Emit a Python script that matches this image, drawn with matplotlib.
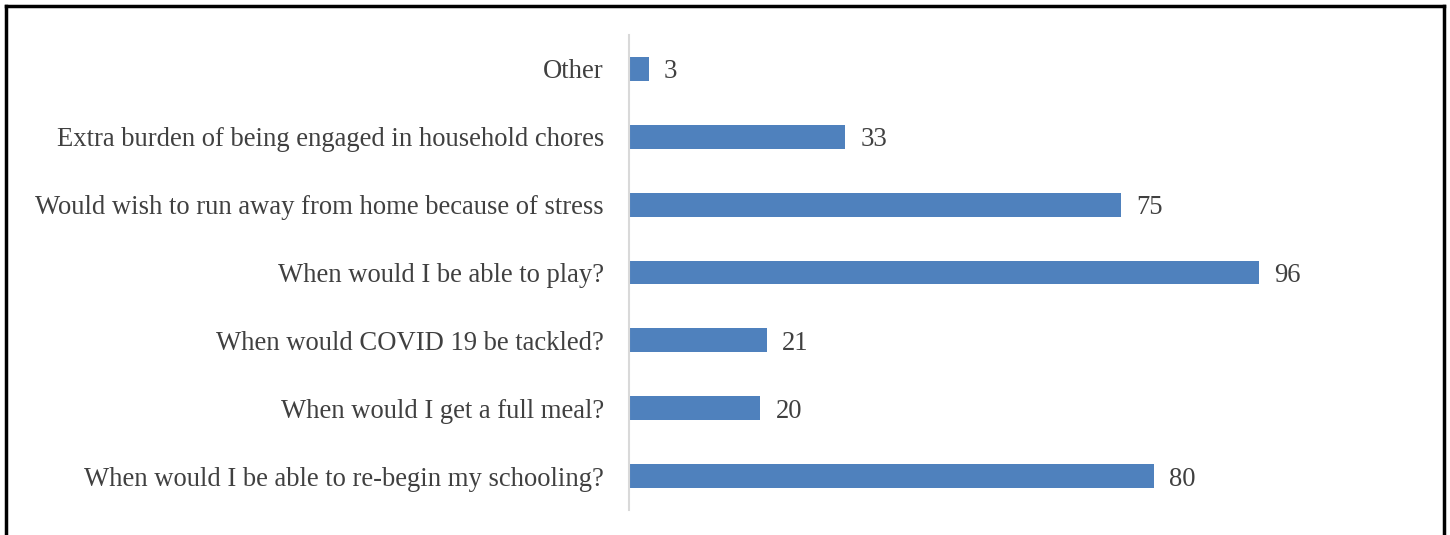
import matplotlib
matplotlib.use("Agg")
import matplotlib.pyplot as plt
from matplotlib.lines import Line2D

categories = [
    "When would I be able to re-begin my schooling?",
    "When would I get a full meal?",
    "When would COVID 19 be tackled?",
    "When would I be able to play?",
    "Would wish to run away from home because of stress",
    "Extra burden of being engaged in household chores",
    "Other",
]
values = [80, 20, 21, 96, 75, 33, 3]

W, H = 1450, 535
fig = plt.figure(figsize=(W / 100, H / 100), dpi=100)
ax = fig.add_axes([629 / W, 1 - 510 / H, (1416 - 629) / W, (510 - 35) / H])

font = ["Liberation Serif", "DejaVu Serif"]
text_color = "#404040"

y = list(range(len(categories)))
ax.barh(y, values, height=0.35, color="#4F81BD")
ax.set_ylim(-0.5, len(categories) - 0.5)
ax.set_xlim(0, 120)
ax.set_yticks(y)
ax.set_yticklabels(categories, family=font, fontsize=19.2, color=text_color,
                   va="center_baseline")
ax.tick_params(axis="y", length=0, pad=18)
ax.set_xticks([])
for s in ["top", "right", "bottom"]:
    ax.spines[s].set_visible(False)
ax.spines["left"].set_color("#D9D9D9")
ax.spines["left"].set_linewidth(1.5)

for yi, v in zip(y, values):
    ax.annotate(str(v), (v, yi), xytext=(11, 0), textcoords="offset points",
                ha="left", va="center_baseline", family=font, fontsize=19.2,
                color=text_color)

# frame border
lw = 2.5
fig.add_artist(Line2D([6 / W, 6 / W], [0, 1 - 6 / H], color="black", lw=lw, transform=fig.transFigure))
fig.add_artist(Line2D([1444 / W, 1444 / W], [0, 1 - 6 / H], color="black", lw=lw, transform=fig.transFigure))
fig.add_artist(Line2D([6 / W, 1444 / W], [1 - 6 / H, 1 - 6 / H], color="black", lw=lw, transform=fig.transFigure))

fig.savefig("out.png", dpi=100)
